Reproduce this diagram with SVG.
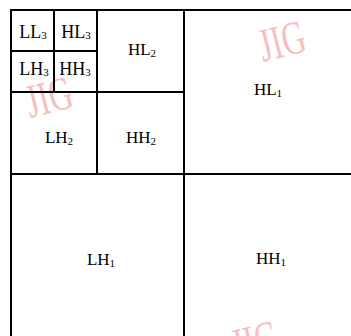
<svg xmlns="http://www.w3.org/2000/svg" width="351" height="336" viewBox="0 0 351 336">
<style>
.ln{stroke:#000;stroke-width:2;fill:none;stroke-linecap:square}
.t{font-family:"Liberation Serif","Times New Roman",serif;font-size:17px;fill:#000;text-anchor:middle}
.t3{font-size:18px}
.s{font-size:11px}
.wm{font-family:"Liberation Serif","Times New Roman",serif;font-size:38px;fill:#f7a9a9;opacity:0.75}
</style>
<rect width="351" height="336" fill="#fff"/>
<g id="watermarks">
<text class="wm" transform="translate(30,118) rotate(-14) scale(0.85,1.25)">JIG</text>
<text class="wm" transform="translate(263,62) rotate(-14) scale(0.85,1.25)">JIG</text>
<text class="wm" transform="translate(236,362) rotate(-14) scale(0.85,1.25)">JIG</text>
</g>
<g id="connectors">
<path class="ln" d="M11,10 H351 M11,10 V336 M184,10 V336 M11,174 H351"/>
<path class="ln" d="M11,92 H184 M97,10 V174 M11,51 H97 M54,10 V92"/>
</g>
<g id="LL3"><text class="t t3" x="33" y="38">LL<tspan class="s" dy="1">3</tspan></text></g>
<g id="HL3"><text class="t t3" x="76" y="38">HL<tspan class="s" dy="1">3</tspan></text></g>
<g id="LH3"><text class="t t3" x="34" y="75">LH<tspan class="s" dy="1">3</tspan></text></g>
<g id="HH3"><text class="t t3" x="75" y="75">HH<tspan class="s" dy="1">3</tspan></text></g>
<g id="HL2"><text class="t" x="142" y="55">HL<tspan class="s" dy="2">2</tspan></text></g>
<g id="LH2"><text class="t" x="59" y="143">LH<tspan class="s" dy="2">2</tspan></text></g>
<g id="HH2"><text class="t" x="141" y="143">HH<tspan class="s" dy="2">2</tspan></text></g>
<g id="HL1"><text class="t" x="268" y="95">HL<tspan class="s" dy="2">1</tspan></text></g>
<g id="LH1"><text class="t" x="101" y="265">LH<tspan class="s" dy="2">1</tspan></text></g>
<g id="HH1"><text class="t" x="271" y="264">HH<tspan class="s" dy="2">1</tspan></text></g>
</svg>
